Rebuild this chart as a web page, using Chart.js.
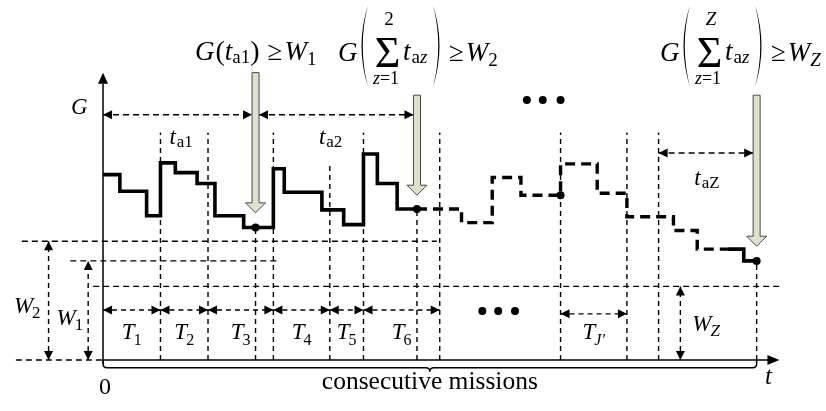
<!DOCTYPE html>
<html>
<head>
<meta charset="utf-8">
<script src="https://cdn.jsdelivr.net/npm/chart.js@4.4.0/dist/chart.umd.min.js"></script>
<style>
  html, body { margin: 0; padding: 0; background: #fff; }
  #wrap { width: 826px; height: 411px; }
</style>
</head>
<body>
<div id="wrap"><canvas id="chart"></canvas></div>
<script>
// G(t) step profile: observed part (solid), projected part (dashed), last mission (solid)
const profileT = [0, 17, 44, 58, 73, 95, 113, 142, 172, 183, 221, 243, 263, 277, 297, 317];
const profileG = [189, 172, 147, 201, 191, 180, 147, 135, 195, 171, 153, 138, 210, 180, 154, 154];
const projT = [317, 362, 393, 422, 462, 499, 529, 576, 600, 631];
const projG = [154, 140, 186, 168, 200, 170, 146, 132, 113, 113];
const endT = [631, 647, 660];
const endG = [113, 101, 101];

// check points where G is compared against the thresholds
const markerT = [154, 317, 462, 660];
const markerG = [135, 154, 168, 101];
const checkT = [154, 317, 660];
const checkTop = [293, 270, 270];
const checkTip = [150, 168, 116];

// mission boundaries (vertical dashed lines)
const gridT = [58, 106, 154, 172, 229, 263, 317, 340, 462, 529, 561, 660];
const gridTop = [232, 232, 135, 232, 201, 232, 154, 232, 232, 232, 232, 101];

// thresholds
const levelNames = ['2', '1', 'Z'];
const levelG = [121, 101, 75];
const levelFrom = [-82, -33, -10];
const levelTo = [337, 178, 685];
const levelArrowT = [-55, -15, 583];

// mission durations T_j
const missionEdges = [0, 58, 106, 172, 229, 263, 340];
const missionNames = ['1', '2', '3', '4', '5', '6'];
const lastMission = [462, 529];

// accumulated active times t_az
const activeEdges = [0, 150.5, 157.5, 313.5];
const activeNames = ['a1', 'a2'];
const lastActive = [561, 656.5];

const SERIF = "'Liberation Serif', 'Times New Roman', serif";

function line(xs, ys, width, dash, extra) {
  return Object.assign({
    data: xs.map((x, i) => ({ x: x, y: ys[i] })),
    showLine: true,
    borderColor: '#000',
    borderWidth: width,
    borderDash: dash || [],
    pointRadius: 0,
    fill: false,
    order: 5
  }, extra || {});
}

const datasets = [];
datasets.push({
  data: markerT.map((t, i) => ({ x: t, y: markerG[i] })),
  showLine: false, pointRadius: 4, pointBackgroundColor: '#000', pointBorderWidth: 0, order: 0
});
datasets.push(line(profileT, profileG, 3.6, [], { stepped: true, order: 1 }));
datasets.push(line(projT, projG, 3.4, [10, 6], { stepped: true, order: 1 }));
datasets.push(line(endT, endG, 3.6, [], { stepped: true, order: 1 }));
// axes
datasets.push(line([0, 0], [-4, 282], 1.5));
datasets.push(line([0, 672], [0, 0], 1.5));
gridT.forEach((t, i) => datasets.push(line([t, t], [0, gridTop[i]], 1.4, [5, 4])));
levelG.forEach((g, i) => datasets.push(line([levelFrom[i], levelTo[i]], [g, g], 1.4, [6, 4])));
datasets.push(line([-88, 0], [0, 0], 1.4, [6, 4]));
levelArrowT.forEach((t, i) => datasets.push(line([t, t], [0, levelG[i]], 1.4, [5, 4])));
for (let i = 0; i < missionNames.length; i++) {
  datasets.push(line([missionEdges[i], missionEdges[i + 1]], [51, 51], 1.4, [5, 4]));
}
datasets.push(line(lastMission, [47, 47], 1.4, [5, 4]));
datasets.push(line([activeEdges[0], activeEdges[1]], [250, 250], 1.4, [6, 4]));
datasets.push(line([activeEdges[2], activeEdges[3]], [250, 250], 1.4, [6, 4]));
datasets.push(line(lastActive, [211, 211], 1.4, [6, 4]));

function head(ctx, x, y, dir, len, half) {
  ctx.beginPath();
  ctx.moveTo(x, y);
  if (dir === 'r') { ctx.lineTo(x - len, y - half); ctx.lineTo(x - len, y + half); }
  if (dir === 'l') { ctx.lineTo(x + len, y - half); ctx.lineTo(x + len, y + half); }
  if (dir === 'u') { ctx.lineTo(x - half, y + len); ctx.lineTo(x + half, y + len); }
  if (dir === 'd') { ctx.lineTo(x - half, y - len); ctx.lineTo(x + half, y - len); }
  ctx.closePath();
  ctx.fillStyle = '#000';
  ctx.fill();
}

function txt(ctx, s, x, y, size, italic, align) {
  ctx.font = (italic ? 'italic ' : '') + size + 'px ' + SERIF;
  ctx.textAlign = align || 'left';
  ctx.textBaseline = 'alphabetic';
  ctx.fillStyle = '#000';
  ctx.fillText(s, x, y);
  return ctx.measureText(s).width;
}

function measure(ctx, parts) {
  let w = 0;
  parts.forEach(p => {
    ctx.font = (p.it ? 'italic ' : '') + p.size + 'px ' + SERIF;
    w += ctx.measureText(p.s).width + (p.dx || 0);
  });
  return w;
}

function run(ctx, x, y, parts) {
  parts.forEach(p => {
    x += p.dx || 0;
    x += txt(ctx, p.s, x, y + (p.dy || 0), p.size, p.it);
  });
}

function runCentered(ctx, cx, y, parts) {
  run(ctx, cx - measure(ctx, parts) / 2, y, parts);
}

function paren(ctx, x, top, bot, right) {
  const mid = (top + bot) / 2;
  const s = right ? -1 : 1;
  const x0 = right ? x + 9 : x;
  ctx.beginPath();
  ctx.moveTo(x0 + s * 9, top);
  ctx.quadraticCurveTo(x0 - s * 4, mid, x0 + s * 9, bot);
  ctx.quadraticCurveTo(x0 - s * 1.5, mid, x0 + s * 9, top);
  ctx.closePath();
  ctx.fillStyle = '#000';
  ctx.fill();
}

function bigArrow(ctx, x, yTop, yTip) {
  const sw = 3.5, hw = 10, hl = 10;
  ctx.beginPath();
  ctx.moveTo(x - sw, yTop);
  ctx.lineTo(x + sw, yTop);
  ctx.lineTo(x + sw, yTip - hl);
  ctx.lineTo(x + hw, yTip - hl);
  ctx.lineTo(x, yTip);
  ctx.lineTo(x - hw, yTip - hl);
  ctx.lineTo(x - sw, yTip - hl);
  ctx.closePath();
  ctx.fillStyle = '#dfe1cd';
  ctx.fill();
  ctx.strokeStyle = '#4a4a4a';
  ctx.lineWidth = 1;
  ctx.stroke();
}

function sumFormula(ctx, x0, top, sub) {
  txt(ctx, 'G', x0, 61, 27, true);
  paren(ctx, x0 + 21, 5, 87, false);
  txt(ctx, '\u03A3', x0 + 49.5, 67, 44, false, 'center');
  txt(ctx, top, x0 + 51, 25, 19, top !== '2', 'center');
  runCentered(ctx, x0 + 48, 84, [{ s: 'z', size: 18, it: true }, { s: '=1', size: 18 }]);
  run(ctx, x0 + 65, 60, [{ s: 't', size: 27, it: true }, { s: 'a', size: 19, dy: 3, dx: 1 }, { s: 'z', size: 19, it: true, dy: 3 }]);
  paren(ctx, x0 + 95, 5, 87, true);
  run(ctx, x0 + 111, 61, [{ s: '\u2265', size: 27 }, { s: 'W', size: 27, it: true, dx: 2 }, { s: sub, size: 19, it: sub === 'Z', dy: 5 }]);
}

const annotations = {
  id: 'annotations',
  afterDatasetsDraw(chart) {
    const ctx = chart.ctx;
    const xs = chart.scales.x, ys = chart.scales.y;
    const X = t => xs.getPixelForValue(t);
    const Y = g => ys.getPixelForValue(g);
    ctx.save();

    // axis heads
    head(ctx, X(0), Y(293), 'u', 11, 5);
    head(ctx, X(683), Y(0), 'r', 12, 5);

    // brace under the time axis
    const by = Y(-8);
    const tip = X(330);
    ctx.beginPath();
    ctx.moveTo(X(0), Y(0));
    ctx.lineTo(X(0), by - 4);
    ctx.quadraticCurveTo(X(0), by, X(0) + 4, by);
    ctx.lineTo(tip - 4, by);
    ctx.quadraticCurveTo(tip, by, tip, by + 4);
    ctx.quadraticCurveTo(tip, by, tip + 4, by);
    ctx.lineTo(X(660) - 4, by);
    ctx.quadraticCurveTo(X(660), by, X(660), by - 4);
    ctx.lineTo(X(660), Y(0));
    ctx.strokeStyle = '#000';
    ctx.lineWidth = 1.5;
    ctx.stroke();

    // threshold arrows
    levelArrowT.forEach((t, i) => {
      head(ctx, X(t), Y(levelG[i]), 'u', 9, 4.5);
      head(ctx, X(t), Y(0), 'd', 9, 4.5);
    });
    // mission arrows
    for (let i = 0; i < missionNames.length; i++) {
      head(ctx, X(missionEdges[i]), Y(51), 'l', 9, 4.5);
      head(ctx, X(missionEdges[i + 1]), Y(51), 'r', 9, 4.5);
    }
    head(ctx, X(lastMission[0]), Y(47), 'l', 9, 4.5);
    head(ctx, X(lastMission[1]), Y(47), 'r', 9, 4.5);
    // active time arrows
    for (let i = 0; i < activeEdges.length; i += 2) {
      head(ctx, X(activeEdges[i]), Y(250), 'l', 9, 4.5);
      head(ctx, X(activeEdges[i + 1]), Y(250), 'r', 9, 4.5);
    }
    head(ctx, X(lastActive[0]), Y(211), 'l', 9, 4.5);
    head(ctx, X(lastActive[1]), Y(211), 'r', 9, 4.5);

    // check arrows
    checkT.forEach((t, i) => bigArrow(ctx, X(t), Y(checkTop[i]), Y(checkTip[i])));

    // ellipses
    ctx.fillStyle = '#000';
    [[428, 265], [444, 265], [462, 265], [383, 50], [399, 50], [416, 50]].forEach(p => {
      ctx.beginPath();
      ctx.arc(X(p[0]), Y(p[1]), 4, 0, Math.PI * 2);
      ctx.fill();
    });

    // labels
    txt(ctx, 'G', X(-24), Y(251), 23, true, 'center');
    txt(ctx, '0', X(2), Y(-35), 24, false, 'center');
    txt(ctx, 't', X(672), Y(-25), 25, true, 'center');
    txt(ctx, 'consecutive missions', X(330), Y(-30), 25.5, false, 'center');

    for (let i = 0; i < missionNames.length; i++) {
      const c = X((missionEdges[i] + missionEdges[i + 1]) / 2);
      runCentered(ctx, c, Y(21), [{ s: 'T', size: 23, it: true }, { s: missionNames[i], size: 16, dy: 6, dx: -1 }]);
    }
    runCentered(ctx, X((lastMission[0] + lastMission[1]) / 2), Y(21),
      [{ s: 'T', size: 23, it: true }, { s: "J\u2032", size: 16, it: true, dy: 6, dx: -1 }]);

    const wPos = [[-90, 48], [-47, 36], [595, 30]];
    levelNames.forEach((n, i) => {
      run(ctx, X(wPos[i][0]), Y(wPos[i][1]), [{ s: 'W', size: 23, it: true }, { s: n, size: 17, it: n === 'Z', dy: 5, dx: -1 }]);
    });

    const taPos = [[67, 220], [218, 220]];
    activeNames.forEach((n, i) => {
      run(ctx, X(taPos[i][0]), Y(taPos[i][1]), [{ s: 't', size: 23, it: true }, { s: n, size: 17, dy: 3, dx: 1 }]);
    });
    run(ctx, X(597), Y(178), [{ s: 't', size: 23, it: true }, { s: 'a', size: 17, dy: 3, dx: 1 }, { s: 'Z', size: 17, dy: 3 }]);

    // formulas above the check arrows
    run(ctx, 195, 60, [
      { s: 'G', size: 27, it: true },
      { s: '(', size: 28, dx: 1 },
      { s: 't', size: 27, it: true },
      { s: 'a1', size: 19, dy: 3 },
      { s: ')', size: 28 },
      { s: '\u2265', size: 27, dx: 8 },
      { s: 'W', size: 27, it: true, dx: 2 },
      { s: '1', size: 19, dy: 5 }
    ]);
    sumFormula(ctx, 338, '2', '2');
    sumFormula(ctx, 660, 'Z', 'Z');

    ctx.restore();
  }
};

new Chart(document.getElementById('chart'), {
  type: 'scatter',
  data: { datasets: datasets },
  options: {
    responsive: true,
    maintainAspectRatio: false,
    animation: false,
    layout: { padding: 0 },
    plugins: { legend: { display: false }, tooltip: { enabled: false } },
    scales: {
      x: { type: 'linear', min: -100, max: 726, display: false },
      y: { type: 'linear', min: -48, max: 363, display: false }
    }
  },
  plugins: [annotations]
});
</script>
</body>
</html>
